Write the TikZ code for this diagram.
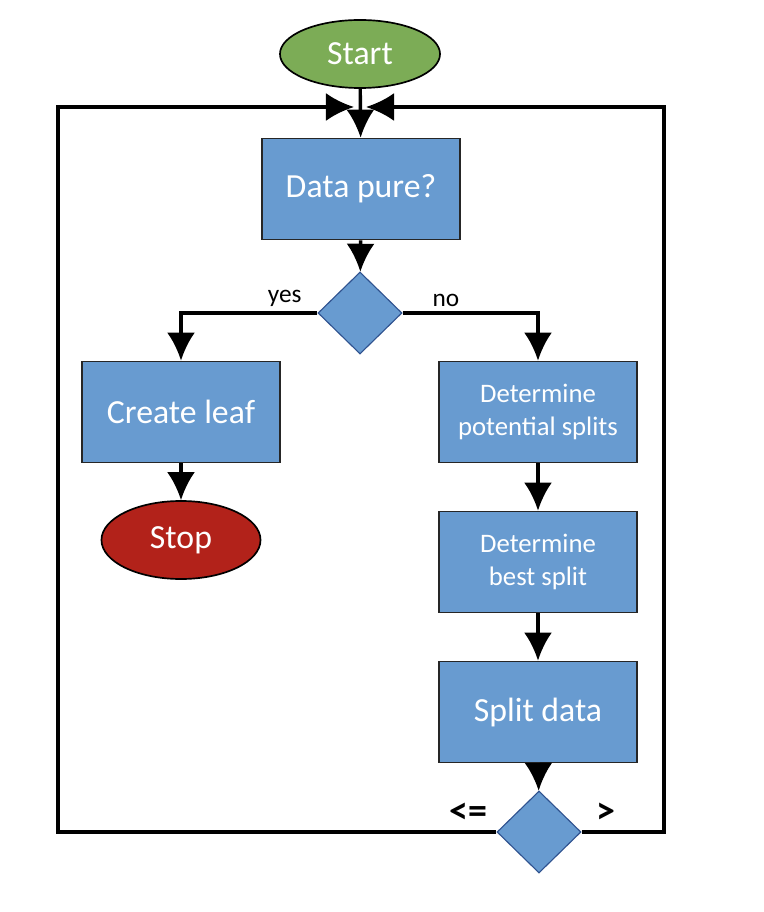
\documentclass[tikz,border=0pt]{standalone}
\usepackage{fontspec}
\setmainfont{Carlito}
\usetikzlibrary{arrows.meta,shapes.geometric}
\tikzset{>={Latex[width=7mm,length=7mm]}}
\definecolor{boxblue}{RGB}{104,155,208}
\definecolor{startgreen}{RGB}{124,172,86}
\definecolor{stopred}{RGB}{178,34,26}
\definecolor{edgeblue}{RGB}{47,82,143}
\tikzset{
	procbox/.style={draw=black!85, line width=1.2pt, fill=boxblue, text=white, minimum width=4.95cm, minimum height=2.525cm, inner sep=0pt, align=center, font=\fontsize{24}{28}\selectfont},
	smallbox/.style={procbox, font=\fontsize{19}{23}\selectfont},
	terminal/.style={ellipse, draw=black, line width=1.2pt, text=white, inner sep=0pt, font=\fontsize{24}{28}\selectfont},
	decision/.style={diamond, aspect=1, draw=edgeblue, line width=0.8pt, fill=boxblue, inner sep=0pt, minimum width=2.1cm, minimum height=2.05cm},
	flow/.style={->, line width=2.4pt},
	branch/.style={font=\fontsize{18}{20}\selectfont},
	sign/.style={font=\bfseries\fontsize{27}{30}\selectfont},
}

\begin{document}
\begin{tikzpicture}[x=0.025cm,y=-0.025cm]
					\useasboundingbox (0,0) rectangle (763,912);
					\node[terminal, fill=startgreen, minimum width=4cm, minimum height=1.7cm] (start) at (360,54) {Start};
					\node[procbox] (pure) at (361,189) {Data pure?};
					\node[decision] (ask) at (360,313) {};
					\node[procbox] (leaf) at (181,412) {Create leaf};
					\node[terminal, fill=stopred, minimum width=3.975cm, minimum height=1.95cm] (stop) at (181,540) {Stop};
					\node[smallbox] (potential) at (538,412) {Determine\\potential splits};
					\node[smallbox] (best) at (538,562) {Determine\\best split};
					\node[procbox] (split) at (538,712) {Split data};
					\node[decision] (depth) at (539,832) {};
					\node[sign] (le) at (468,813) {<=};
					\node[sign] (gt) at (606,813) {>};
					\coordinate (inL) at (354,107);
					\coordinate (inR) at (366,107);
					\coordinate (loopL) at (58,832);
					\coordinate (loopR) at (664,832);
					\draw[flow] (start) -- (pure);
					\draw[flow] (pure) -- (ask);
					\draw[flow] (ask.west) -| (leaf.north) node[branch, pos=0.12, above] {yes};
					\draw[flow] (ask.east) -| (potential.north) node[branch, pos=0.16, above] {no};
					\draw[flow] (leaf) -- (stop);
					\draw[flow] (potential) -- (best);
					\draw[flow] (best) -- (split);
					\draw[flow] (split) -- (depth);
					\draw[flow] (depth.west) -- (loopL) |- (inL);
					\draw[flow] (depth.east) -- (loopR) |- (inR);
				\end{tikzpicture}
\end{document}
